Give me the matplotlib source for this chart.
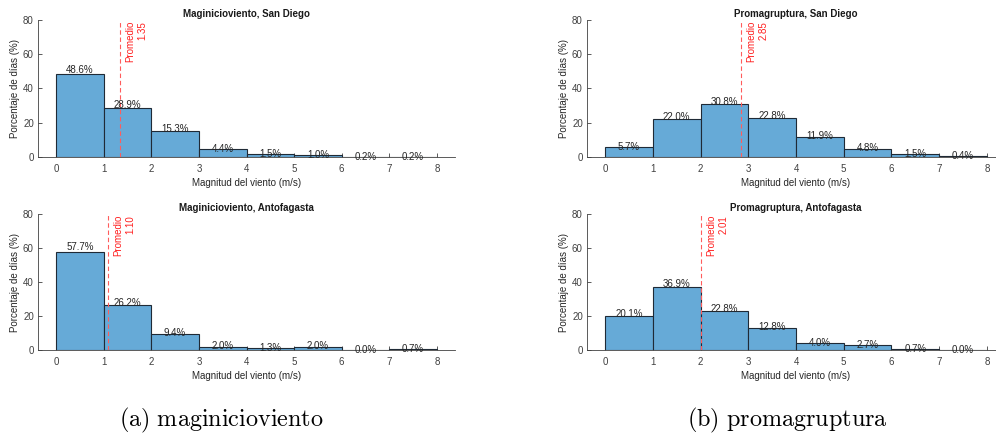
import matplotlib
matplotlib.use("Agg")
import matplotlib.pyplot as plt
import numpy as np

plt.rcParams['font.family'] = ['Liberation Sans', 'DejaVu Sans']
plt.rcParams['mathtext.fontset'] = 'cm'

bin_edges = [0, 1, 2, 3, 4, 5, 6, 7, 8]
xticks = [0, 1, 2, 3, 4, 5, 6, 7, 8]
yticks = [0, 20, 40, 60, 80]

mag_sd = [48.6, 28.9, 15.3, 4.4, 1.5, 1.0, 0.2, 0.2]
mag_sd_mean = 1.35
mag_ant = [57.7, 26.2, 9.4, 2.0, 1.3, 2.0, 0.0, 0.7]
mag_ant_mean = 1.10
pro_sd = [5.7, 22.0, 30.8, 22.8, 11.9, 4.8, 1.5, 0.4]
pro_sd_mean = 2.85
pro_ant = [20.1, 36.9, 22.8, 12.8, 4.0, 2.7, 0.7, 0.0]
pro_ant_mean = 2.01

titles = ["Maginicioviento, San Diego", "Promagruptura, San Diego",
          "Maginicioviento, Antofagasta", "Promagruptura, Antofagasta"]
captions = ["(a) maginicioviento", "(b) promagruptura"]

W, H = 996, 445
fig = plt.figure(figsize=(W / 100, H / 100), dpi=100)

def px_axes(l, t, r, b):
    return fig.add_axes([l / W, 1 - b / H, (r - l) / W, (b - t) / H])

axes = [
    px_axes(38, 20, 455, 157),
    px_axes(587, 20, 1005, 157),
    px_axes(38, 214, 455, 350),
    px_axes(587, 214, 1005, 350),
]
datas = [(mag_sd, mag_sd_mean), (pro_sd, pro_sd_mean),
         (mag_ant, mag_ant_mean), (pro_ant, pro_ant_mean)]

axc = '#404040'
fs = 7
for ax, (vals, mean), title in zip(axes, datas, titles):
    edges = np.array(bin_edges, dtype=float)
    lefts = edges[:-1]
    widths = np.diff(edges)
    ax.bar(lefts, vals, width=widths, align='edge', color='#66aad7',
           edgecolor='#1f2a36', linewidth=0.8, zorder=2)
    for x, w, v in zip(lefts, widths, vals):
        ax.text(x + w / 2, v * 1.05, f"{v:.1f}%", ha='center', va='center',
                fontsize=fs, color='#262626', zorder=4)
    ax.plot([mean, mean], [0, 80], color='#ff5c5c', lw=0.8,
            dashes=(4, 2.5), zorder=3)
    ax.text(mean + 0.1, 79.5, f"Promedio\n{mean:.2f}", rotation=90,
            ha='left', va='top', multialignment='right',
            fontsize=fs, color='#ff2020', linespacing=1.3, zorder=4)
    ax.set_xlim(-0.38, 8.38)
    ax.set_ylim(0, 80)
    ax.set_xticks(xticks)
    ax.set_yticks(yticks)
    ax.tick_params(axis='x', direction='in', length=3, width=0.6, colors=axc,
                   labelsize=fs, pad=5)
    ax.tick_params(axis='y', direction='in', length=3, width=0.6, colors=axc,
                   labelsize=fs, pad=3)
    for s in ('top', 'right'):
        ax.spines[s].set_visible(False)
    for s in ('left', 'bottom'):
        ax.spines[s].set_color(axc)
        ax.spines[s].set_linewidth(0.6)
    ax.set_title(title, fontsize=fs, fontweight='bold', color='#1a1a1a', pad=2)
    ax.set_xlabel("Magnitud del viento (m/s)", fontsize=fs, color='#262626',
                  labelpad=3)
    ax.set_ylabel("Porcentaje de días (%)", fontsize=fs, color='#262626',
                  labelpad=2)

fig.text(221 / W, 1 - 420 / H, r"$\mathrm{(a)\ maginicioviento}$",
         ha='center', va='center', fontsize=17.4)
fig.text(787 / W, 1 - 420 / H, r"$\mathrm{(b)\ promagruptura}$",
         ha='center', va='center', fontsize=17.4)

fig.savefig("out.png", dpi=100)
